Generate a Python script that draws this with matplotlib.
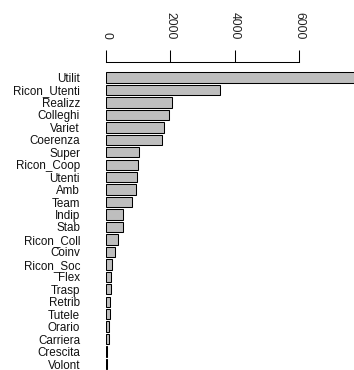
import numpy as np
import matplotlib.pyplot as plt

# Factor names and their counts, from largest to smallest
labels = ['Utilit', 'Ricon_Utenti', 'Realizz', 'Colleghi', 'Variet', 'Coerenza',
          'Super', 'Ricon_Coop', 'Utenti', 'Amb', 'Team', 'Indip', 'Stab',
          'Ricon_Coll', 'Coinv', 'Ricon_Soc', 'Flex', 'Trasp', 'Retrib',
          'Tutele', 'Orario', 'Carriera', 'Crescita', 'Volont']
values = [7750, 3535, 2056, 1943, 1798, 1736, 1033, 1002, 971, 940, 796,
          537, 527, 382, 269, 186, 165, 145, 114, 114, 93, 83, 31, 20]
ticks = [0, 2000, 4000, 6000]

plt.rcParams['font.family'] = ['Liberation Sans', 'DejaVu Sans']

fig = plt.figure(figsize=(3.54, 3.70), dpi=100)
ax = fig.add_axes([106 / 354, 0, 1 - 106 / 354, 1 - 61.7 / 370])

y = np.arange(len(labels))
ax.barh(y, values, height=0.833, color='#bebebe', edgecolor='black', linewidth=0.75)

ax.set_xlim(0, 7690)
ax.set_ylim(23.48, -1.27)

# axis on top, like R's side=3 axis
for s in ['left', 'right', 'bottom']:
    ax.spines[s].set_visible(False)
ax.spines['top'].set_bounds(0, 6000)
ax.spines['top'].set_linewidth(0.75)
ax.xaxis.set_ticks_position('top')
ax.set_xticks(ticks)
ax.set_xticklabels([str(t) for t in ticks], rotation=-90, fontsize=8.7, color='#222222')
ax.tick_params(axis='x', length=8.4, width=0.75, pad=8)

ax.set_yticks(y)
ax.set_yticklabels(labels, fontsize=8.4, color='#111111')
ax.tick_params(axis='y', length=0, pad=18.7)

fig.savefig('out.png', dpi=100)
